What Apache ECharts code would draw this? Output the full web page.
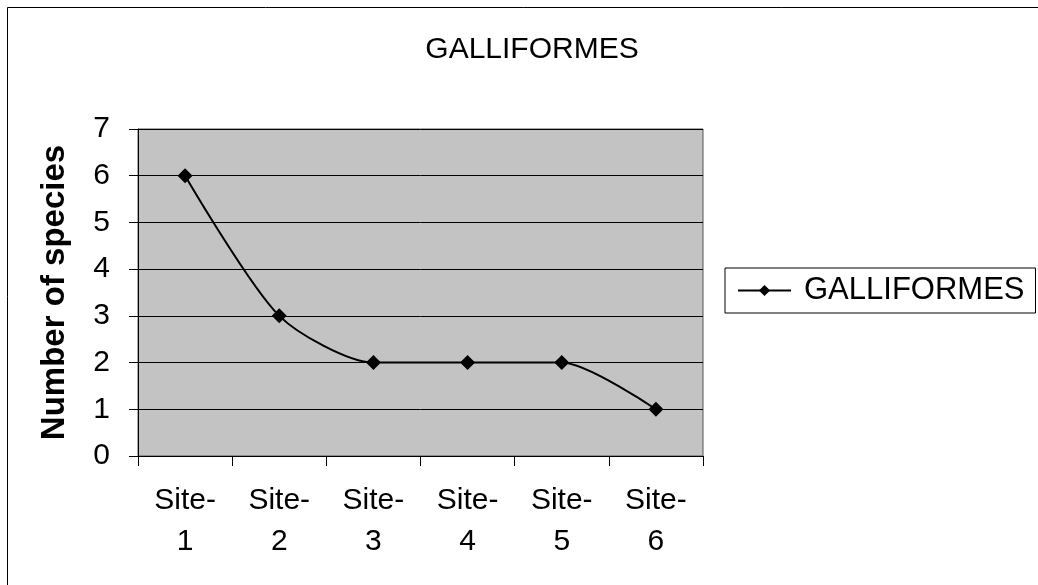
<!DOCTYPE html>
<html>
<head>
<meta charset="utf-8">
<title>GALLIFORMES</title>
<script src="https://cdn.jsdelivr.net/npm/echarts@6/dist/echarts.min.js"></script>
<style>
  html, body { margin: 0; padding: 0; background: #fff; }
  #chart { width: 1038px; height: 585px; }
</style>
</head>
<body>
<div id="chart"></div>
<script>
// 数据
var siteNames = ["Site-\n1", "Site-\n2", "Site-\n3", "Site-\n4", "Site-\n5", "Site-\n6"];
var speciesCount = [6, 3, 2, 2, 2, 1];
var yTicks = [0, 1, 2, 3, 4, 5, 6, 7];

var font = "Liberation Sans, Arial, sans-serif";
var chart = echarts.init(document.getElementById("chart"));

var option = {
  backgroundColor: "#fff",
  animation: false,
  title: {
    text: "GALLIFORMES",
    left: 527,
    top: 30,
    textAlign: "center",
    textStyle: { color: "#000", fontFamily: font, fontWeight: "normal", fontSize: 30 }
  },
  legend: {
    left: 725,
    top: 268,
    padding: [7, 11, 7, 12],
    borderColor: "#000",
    borderWidth: 1,
    itemWidth: 53,
    itemHeight: 14,
    textStyle: { color: "#000", fontFamily: font, fontSize: 31, padding: [0, 0, 0, 8] },
    data: ["GALLIFORMES"]
  },
  grid: {
    left: 138,
    top: 129,
    right: 335,
    bottom: 129,
    show: true,
    backgroundColor: "#c3c3c3",
    borderColor: "#555",
    borderWidth: 1
  },
  xAxis: {
    type: "category",
    data: siteNames,
    boundaryGap: true,
    axisLine: { lineStyle: { color: "#000", width: 1 } },
    axisTick: { show: true, length: 10, lineStyle: { color: "#000" } },
    axisLabel: {
      color: "#000",
      fontFamily: font,
      fontSize: 30,
      lineHeight: 41,
      margin: 24,
      interval: 0
    }
  },
  yAxis: {
    type: "value",
    min: yTicks[0],
    max: yTicks[yTicks.length - 1],
    interval: 1,
    name: "Number of species",
    nameLocation: "middle",
    nameGap: 67,
    nameTextStyle: { color: "#000", fontFamily: font, fontWeight: "bold", fontSize: 33 },
    axisLine: { show: true, lineStyle: { color: "#000", width: 1 } },
    axisTick: { show: true, length: 9, lineStyle: { color: "#000" } },
    axisLabel: { color: "#000", fontFamily: font, fontSize: 30, margin: 28 },
    splitLine: { show: true, lineStyle: { color: "#000", width: 1 } }
  },
  series: [
    {
      name: "GALLIFORMES",
      type: "line",
      data: speciesCount,
      smooth: 0.25,
      symbol: "diamond",
      symbolSize: 15,
      itemStyle: { color: "#000" },
      lineStyle: { color: "#000", width: 2 }
    }
  ],
  // 外框
  graphic: [
    {
      type: "rect",
      shape: { x: 7.5, y: 7.5, width: 1100, height: 700 },
      style: { fill: null, stroke: "#000", lineWidth: 1 },
      silent: true
    }
  ]
};

chart.setOption(option);
</script>
</body>
</html>
